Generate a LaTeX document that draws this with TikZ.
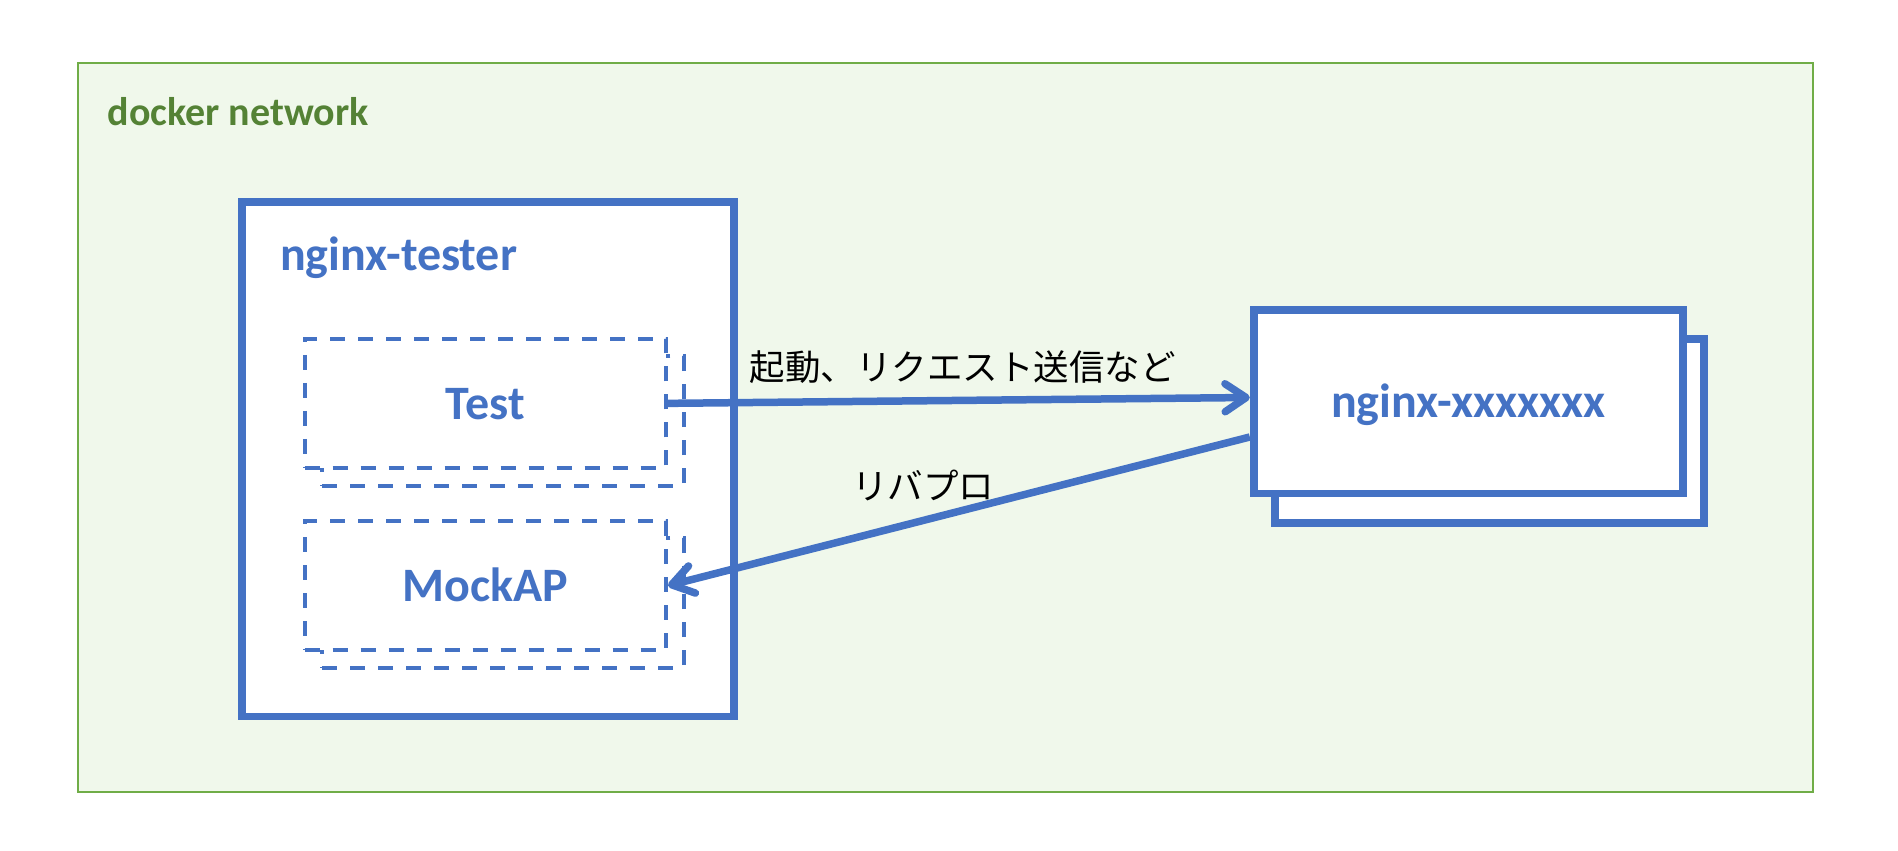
\documentclass[tikz,border=0pt]{standalone}
\usepackage{fontspec}
\setmainfont{Carlito}
\newfontfamily\jp{Noto Sans CJK JP}
\usetikzlibrary{arrows.meta}
\definecolor{blu}{HTML}{4472C4}
\definecolor{grn}{HTML}{70AD47}
\definecolor{grnfill}{HTML}{F0F8EB}
\definecolor{grntext}{HTML}{548235}
\tikzset{
  netbox/.style={draw=grn, line width=2pt, fill=grnfill, inner sep=0pt, anchor=north west},
  solidbox/.style={draw=blu, line width=7.7pt, fill=white, inner sep=0pt, anchor=north west},
  dbox/.style={draw=blu, line width=4pt, dash pattern=on 15pt off 13pt, fill=white, inner sep=0pt,
    anchor=north west, minimum width=361.3pt, minimum height=129.3pt},
  bluelbl/.style={text=blu, font=\bfseries\fontsize{48}{56}\selectfont, text height=31.6pt, text depth=0pt},
  titlelbl/.style={text=blu, font=\bfseries\fontsize{48}{56}\selectfont, inner sep=0pt, anchor=base west},
  netlbl/.style={text=grntext, font=\bfseries\fontsize{40}{48}\selectfont, inner sep=0pt, anchor=base west},
  jplbl/.style={text=black, font=\jp\fontsize{35.5}{44}\selectfont, inner sep=0pt, anchor=base west},
  arr/.style={draw=blu, line width=7.5pt, -{Straight Barb[length=21pt,width=28pt,line cap=round,line join=round]}}
}
\begin{document}
\begin{tikzpicture}[x=1pt,y=-1pt]
\useasboundingbox (0,0) rectangle (1898,851);
% docker network
\node[netbox, minimum width=1735pt, minimum height=729pt] (net) at (77.3,62.3) {};
\node[netlbl] (netname) at (107.5,125) {docker network};
% nginx-tester
\node[solidbox, minimum width=492pt, minimum height=514.5pt] (tester) at (238,198) {};
\node[titlelbl] (testername) at (280,270.5) {nginx-tester};
% Test / MockAP
\node[dbox] (testsh) at (320.4,354.4) {};
\node[dbox, bluelbl] (test) at (302.7,336.7) {Test};
\node[dbox] (mocksh) at (320.4,536.4) {};
\node[dbox, bluelbl] (mock) at (302.7,519) {MockAP};
% nginx-xxxxxxx
\node[solidbox, minimum width=429.2pt, minimum height=183.5pt] (nxback) at (1270.8,335.3) {};
\node[solidbox, bluelbl, minimum width=429.2pt, minimum height=183.5pt] (nx) at (1249.8,306.2) {nginx-xxxxxxx};
% connectors
\coordinate (yin) at (0,397.5);
\coordinate (yout) at (0,437);
\draw[arr] (test.east) -- (nx.west |- yin);
\draw[arr] (nx.west |- yout) -- (mock.east);
\node[jplbl] (req) at (749.5,380.5) {起動、リクエスト送信など};
\node[jplbl] (rp) at (852,499) {リバプロ};
\end{tikzpicture}
\end{document}
